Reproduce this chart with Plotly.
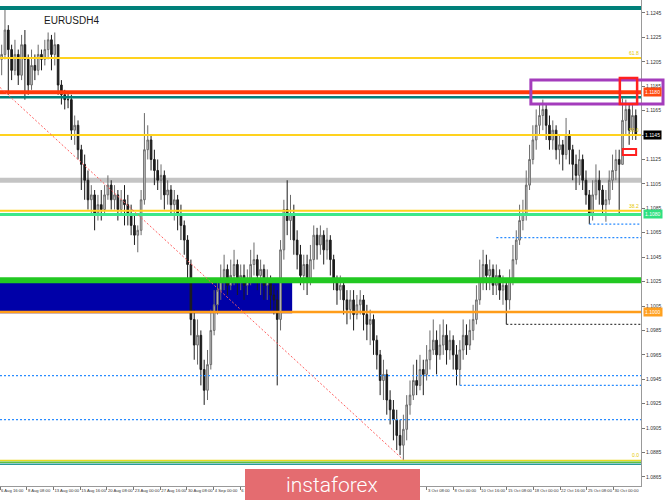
import plotly.graph_objects as go

# ---- data (prices in pips, 1 pip = 0.0001) ----
opens_p = [11207,
    11211, 11231, 11215, 11198, 11211, 11194, 11219, 11207, 11186, 11202,
    11198, 11211, 11207, 11215, 11223, 11211, 11219, 11186, 11178, 11174,
    11174, 11149, 11153, 11133, 11121, 11108, 11092, 11096, 11080, 11088,
    11084, 11096, 11104, 11092, 11096, 11084, 11092, 11088, 11080, 11071,
    11063, 11067, 11092, 11133, 11141, 11125, 11116, 11108, 11112, 11096,
    11100, 11088, 11092, 11080, 11071, 11059, 11039, 10994, 10973, 10981,
    10953, 10936, 10957, 10985, 11006, 11018, 11026, 11035, 11022, 11030,
    11039, 11026, 11030, 11022, 11026, 11039, 11043, 11030, 11035, 11022,
    11026, 11014, 11010, 10994, 11051, 11084, 11075, 11080, 11059, 11047,
    11030, 11039, 11026, 11043, 11063, 11055, 11063, 11051, 11059, 11043,
    11026, 11018, 11022, 11010, 11002, 11010, 10998, 11006, 11010, 10998,
    10990, 10994, 10977, 10965, 10944, 10949, 10928, 10920, 10912, 10899,
    10891, 10904, 10924, 10932, 10944, 10940, 10953, 10949, 10961, 10969,
    10977, 10965, 10973, 10981, 10969, 10977, 10965, 10953, 10969, 10981,
    10973, 10985, 10994, 11010, 11026, 11039, 11030, 11035, 11022, 11030,
    11018, 11022, 11010, 11026, 11043, 11059, 11075, 11080, 11104, 11125,
    11141, 11153, 11161, 11166, 11153, 11141, 11149, 11133, 11137, 11129,
    11145, 11133, 11121, 11112, 11125, 11108, 11096, 11080, 11096, 11108,
    11100, 11088, 11092, 11108, 11116, 11125, 11121, 11157, 11166, 11149,
    11161]

closes_p = [
    11211, 11231, 11215, 11198, 11211, 11194, 11219, 11207, 11186, 11202,
    11198, 11211, 11207, 11215, 11223, 11211, 11219, 11186, 11178, 11174,
    11174, 11149, 11153, 11133, 11121, 11108, 11092, 11096, 11080, 11088,
    11084, 11096, 11104, 11092, 11096, 11084, 11092, 11088, 11080, 11071,
    11063, 11067, 11092, 11133, 11141, 11125, 11116, 11108, 11112, 11096,
    11100, 11088, 11092, 11080, 11071, 11059, 11039, 10994, 10973, 10981,
    10953, 10936, 10957, 10985, 11006, 11018, 11026, 11035, 11022, 11030,
    11039, 11026, 11030, 11022, 11026, 11039, 11043, 11030, 11035, 11022,
    11026, 11014, 11010, 10994, 11051, 11084, 11075, 11080, 11059, 11047,
    11030, 11039, 11026, 11043, 11063, 11055, 11063, 11051, 11059, 11043,
    11026, 11018, 11022, 11010, 11002, 11010, 10998, 11006, 11010, 10998,
    10990, 10994, 10977, 10965, 10944, 10949, 10928, 10920, 10912, 10899,
    10891, 10904, 10924, 10932, 10944, 10940, 10953, 10949, 10961, 10969,
    10977, 10965, 10973, 10981, 10969, 10977, 10965, 10953, 10969, 10981,
    10973, 10985, 10994, 11010, 11026, 11039, 11030, 11035, 11022, 11030,
    11018, 11022, 11010, 11026, 11043, 11059, 11075, 11080, 11104, 11125,
    11141, 11153, 11161, 11166, 11153, 11141, 11149, 11133, 11137, 11129,
    11145, 11133, 11121, 11112, 11125, 11108, 11096, 11080, 11096, 11108,
    11100, 11088, 11092, 11108, 11116, 11125, 11121, 11157, 11166, 11149,
    11161, 11145]

highs_p = [
    11219, 11249, 11235, 11219, 11223, 11215, 11227, 11231, 11211, 11215,
    11211, 11219, 11215, 11223, 11229, 11227, 11229, 11219, 11190, 11182,
    11179, 11178, 11161, 11157, 11137, 11129, 11116, 11104, 11100, 11096,
    11100, 11104, 11112, 11108, 11104, 11100, 11100, 11104, 11096, 11088,
    11080, 11071, 11100, 11163, 11153, 11145, 11133, 11125, 11121, 11116,
    11108, 11104, 11100, 11096, 11088, 11075, 11063, 11043, 11002, 10994,
    10985, 10961, 10969, 11002, 11018, 11026, 11039, 11047, 11039, 11043,
    11051, 11043, 11039, 11039, 11035, 11051, 11057, 11047, 11043, 11039,
    11035, 11030, 11022, 11018, 11059, 11092, 11108, 11096, 11088, 11067,
    11055, 11047, 11047, 11055, 11071, 11069, 11071, 11067, 11069, 11063,
    11047, 11030, 11030, 11026, 11018, 11018, 11018, 11014, 11018, 11014,
    11006, 11002, 10998, 10981, 10969, 10961, 10953, 10936, 10928, 10920,
    10912, 10916, 10932, 10944, 10957, 10961, 10965, 10961, 10973, 10985,
    10994, 10985, 10990, 10994, 10990, 10985, 10981, 10973, 10977, 10994,
    10990, 10994, 11006, 11022, 11043, 11051, 11047, 11043, 11039, 11039,
    11035, 11030, 11026, 11035, 11055, 11067, 11088, 11092, 11116, 11137,
    11153, 11166, 11170, 11174, 11170, 11161, 11157, 11153, 11145, 11141,
    11159, 11149, 11137, 11129, 11133, 11129, 11116, 11100, 11108, 11121,
    11116, 11104, 11100, 11116, 11129, 11133, 11133, 11175, 11174, 11170,
    11170, 11166]

lows_p = [
    11194, 11207, 11178, 11190, 11194, 11186, 11190, 11174, 11178, 11182,
    11190, 11194, 11198, 11202, 11207, 11198, 11202, 11178, 11170, 11166,
    11167, 11141, 11137, 11125, 11100, 11092, 11084, 11080, 11067, 11075,
    11075, 11080, 11092, 11084, 11084, 11075, 11080, 11071, 11071, 11063,
    11055, 11049, 11063, 11088, 11125, 11116, 11104, 11100, 11092, 11084,
    11088, 11080, 11075, 11067, 11059, 11047, 11026, 10981, 10961, 10957,
    10940, 10924, 10928, 10953, 10981, 10998, 11010, 11018, 11014, 11018,
    11022, 11014, 11018, 11010, 11014, 11022, 11030, 11018, 11014, 11010,
    11010, 11002, 10998, 10940, 10985, 11043, 11063, 11059, 11047, 11035,
    11022, 11018, 11014, 11022, 11035, 11043, 11047, 11039, 11043, 11030,
    11018, 11006, 11010, 10998, 10990, 10994, 10985, 10994, 10998, 10985,
    10977, 10973, 10965, 10953, 10932, 10928, 10916, 10908, 10895, 10887,
    10883, 10879, 10895, 10916, 10928, 10932, 10936, 10932, 10944, 10953,
    10965, 10949, 10961, 10965, 10957, 10961, 10953, 10940, 10940, 10961,
    10965, 10969, 10977, 10990, 11006, 11018, 11018, 11018, 11014, 11014,
    11010, 11006, 10990, 11002, 11022, 11039, 11055, 11067, 11075, 11100,
    11121, 11133, 11145, 11149, 11141, 11133, 11133, 11125, 11121, 11116,
    11125, 11121, 11108, 11100, 11104, 11100, 11088, 11072, 11075, 11092,
    11088, 11080, 11074, 11088, 11100, 11108, 11080, 11121, 11145, 11137,
    11141, 11141]

# x-axis labels visible in the picture (bar-index position of each time label)
tick_pos = [-0.5, 7.6, 15.6, 23.7, 31.7, 39.8, 47.8, 55.8, 63.9, 71.9,
            128.1, 136.1, 144.1, 152.2, 160.2, 168.2, 176.3, 184.3]
tick_text = ["6 Aug 16:00", "8 Aug 08:00", "13 Aug 00:00", "15 Aug 16:00", "20 Aug 08:00",
             "23 Aug 00:00", "27 Aug 16:00", "30 Aug 08:00", "4 Sep 00:00", "6 Sep 16:00",
             "3 Oct 08:00", "8 Oct 00:00", "10 Oct 16:00", "15 Oct 08:00",
             "18 Oct 00:00", "22 Oct 16:00", "25 Oct 08:00", "30 Oct 00:00"]

# price scale labels
y_ticks = [1.0865, 1.0885, 1.0905, 1.0925, 1.0945, 1.0965, 1.0985, 1.1005, 1.1025, 1.1045,
           1.1065, 1.1085, 1.1105, 1.1125, 1.1145, 1.1165, 1.1185, 1.1205, 1.1225, 1.1245]

# horizontal level lines (full width)
level_prices = [1.1249, 1.1208, 1.1180, 1.1176, 1.1145, 1.1083, 1.1080, 1.1026, 1.1000,
                1.08785, 1.0877, 1.08755]
band_price = [1.1108]

# dotted lines: price and starting bar
dot_prices = [1.1072, 1.1061, 1.0990, 1.0948, 1.0940, 1.0912]
dot_start = [177, 149, 152, -0.5, 138, -0.5]

# fibonacci level labels
fib_text = ["61.8", "50.0", "38.2", "0.0"]
fib_price = [1.1208, 1.1145, 1.1083, 1.08785]

# trend line (bar index, price)
trend_x = [-0.5, 121]
trend_y = [1.1184, 1.0879]

# zones: (bar0, bar1, price0, price1)
blue_zone = [-0.5, 87.5, 1.0999, 1.1025]
purple_zone = [159.4, 1.11705, 1.1190]
red_zone = [186.2, 191.4, 1.11705, 1.11917]
red_small = [187.1, 191.1, 1.11287, 1.11336]

# price tags on the scale
tag_prices = [1.1180, 1.1080, 1.1000]
tag_text = ["1.1180", "1.1080", "1.1000"]

# ---- figure ----
PIP = 1e-4
bars = list(range(len(closes_p)))
opens = [v * PIP for v in opens_p]
highs = [v * PIP for v in highs_p]
lows = [v * PIP for v in lows_p]
closes = [v * PIP for v in closes_p]

X0, X1 = -0.5, 192.57
Y0, Y1 = 1.08576, 1.12556
FONT = "Liberation Sans, Arial"


def xp(i):
    return (i - X0) / (X1 - X0)


fig = go.Figure()
fig.add_trace(go.Candlestick(
    x=bars, open=opens, high=highs, low=lows, close=closes,
    increasing=dict(line=dict(color="#6a6a6a", width=1), fillcolor="#d4d4d4"),
    decreasing=dict(line=dict(color="#1c1c1c", width=1), fillcolor="#1c1c1c"),
    whiskerwidth=0, hoverinfo="skip", showlegend=False))

level_styles = [
    dict(color="#00807a", width=4),
    dict(color="#ffd21e", width=2),
    dict(color="#ff3a0a", width=4),
    dict(color="#00807a", width=2.5),
    dict(color="#ffd21e", width=2),
    dict(color="#ffd21e", width=2),
    dict(color="#3ce88a", width=3),
    dict(color="#22c822", width=6),
    dict(color="#ff9d1a", width=2.5),
    dict(color="#e8d820", width=1.5),
    dict(color="#5cc040", width=1.5),
    dict(color="#2a9a9a", width=1.5),
]
shapes = []
shapes.append(dict(type="line", xref="paper", yref="y", x0=0, x1=1,
                   y0=band_price[0], y1=band_price[0],
                   line=dict(color="#c4c4c4", width=5), layer="below"))
shapes.append(dict(type="rect", xref="x", yref="y", x0=blue_zone[0], x1=blue_zone[1],
                   y0=blue_zone[2], y1=blue_zone[3], fillcolor="#0000a8",
                   line=dict(width=0), layer="below"))
for p, st in zip(level_prices, level_styles):
    shapes.append(dict(type="line", xref="paper", yref="y", x0=0, x1=1, y0=p, y1=p,
                       line=st, layer="above"))
dot_colors = ["#2a8cff", "#2a8cff", "#444444", "#2a8cff", "#2a8cff", "#2a8cff"]
for p, s, c in zip(dot_prices, dot_start, dot_colors):
    shapes.append(dict(type="line", xref="x", yref="y", x0=s, x1=X1, y0=p, y1=p,
                       line=dict(color=c, width=1.2, dash="2px,2px"), layer="above"))
shapes.append(dict(type="line", xref="x", yref="y", x0=trend_x[0], x1=trend_x[1],
                   y0=trend_y[0], y1=trend_y[1],
                   line=dict(color="#ff6060", width=1, dash="2px,2px"), layer="above"))
shapes.append(dict(type="rect", xref="paper", yref="y", x0=xp(purple_zone[0]), x1=663 / 641,
                   y0=purple_zone[1], y1=purple_zone[2],
                   line=dict(color="#a43cbc", width=3), layer="above"))
shapes.append(dict(type="rect", xref="x", yref="y", x0=red_zone[0], x1=red_zone[1],
                   y0=red_zone[2], y1=red_zone[3],
                   line=dict(color="#ff2020", width=2.5), layer="above"))
shapes.append(dict(type="rect", xref="x", yref="y", x0=red_small[0], x1=red_small[1],
                   y0=red_small[2], y1=red_small[3], fillcolor="white",
                   line=dict(color="#ff2020", width=2), layer="above"))
shapes.append(dict(type="rect", xref="paper", yref="paper", x0=245 / 641, x1=420 / 641,
                   y0=-14 / 486, y1=17 / 486, fillcolor="#e46c70",
                   line=dict(width=0), layer="above"))

annotations = []
annotations.append(dict(text="EURUSDH4", xref="paper", yref="paper", x=42 / 641, y=1 - 20 / 486,
                        xanchor="left", yanchor="middle", showarrow=False,
                        font=dict(family=FONT, size=10, color="#1a1a1a")))
for t, p in zip(fib_text, fib_price):
    annotations.append(dict(text=t, xref="paper", yref="y", x=1.0, y=p,
                            xanchor="right", yanchor="bottom", showarrow=False,
                            font=dict(family=FONT, size=5, color="#e6c800")))
tag_bg = ["#ff4a10", "#30e080", "#ffa020"]
for p, t, bg in zip(tag_prices, tag_text, tag_bg):
    annotations.append(dict(text=t, xref="paper", yref="y", x=1.0 + 2 / 641, y=p,
                            xanchor="left", yanchor="middle", showarrow=False, bgcolor=bg,
                            borderpad=1,
                            font=dict(family=FONT, size=5, color="white")))
annotations.append(dict(text="%.4f" % closes[-1], xref="paper", yref="y", x=1.0 + 2 / 641,
                        y=closes[-1], xanchor="left", yanchor="middle", showarrow=False,
                        bgcolor="black", borderpad=1,
                        font=dict(family=FONT, size=5, color="white")))
annotations.append(dict(text="instaforex", xref="paper", yref="paper", x=332 / 641, y=1 / 486,
                        xanchor="center", yanchor="middle", showarrow=False,
                        font=dict(family="Roboto, Lato", size=21, color="white", weight=300)))

fig.update_layout(
    width=665, height=500,
    margin=dict(l=0, r=24, t=0, b=14, autoexpand=False),
    paper_bgcolor="white", plot_bgcolor="white",
    shapes=shapes, annotations=annotations,
    showlegend=False, hovermode=False,
    xaxis=dict(range=[X0, X1], rangeslider=dict(visible=False), showgrid=False,
               zeroline=False, tickmode="array", tickvals=tick_pos, ticktext=tick_text,
               tickangle=0, automargin=False,
               ticks="outside", ticklen=3, tickcolor="#777", ticklabelposition="outside right",
               tickfont=dict(family=FONT, size=4.2, color="#333"),
               showline=True, linecolor="#999", linewidth=1),
    yaxis=dict(range=[Y0, Y1], side="right", showgrid=False, zeroline=False, automargin=False,
               tickmode="array", tickvals=y_ticks, tickformat=".4f",
               ticks="outside", ticklen=3, tickcolor="#777",
               tickfont=dict(family=FONT, size=5, color="#333"),
               showline=True, linecolor="#999", linewidth=1),
)

fig.write_html("out.html", config={"displayModeBar": False},
               post_script="document.body.style.margin='0';document.body.style.overflow='hidden';")
